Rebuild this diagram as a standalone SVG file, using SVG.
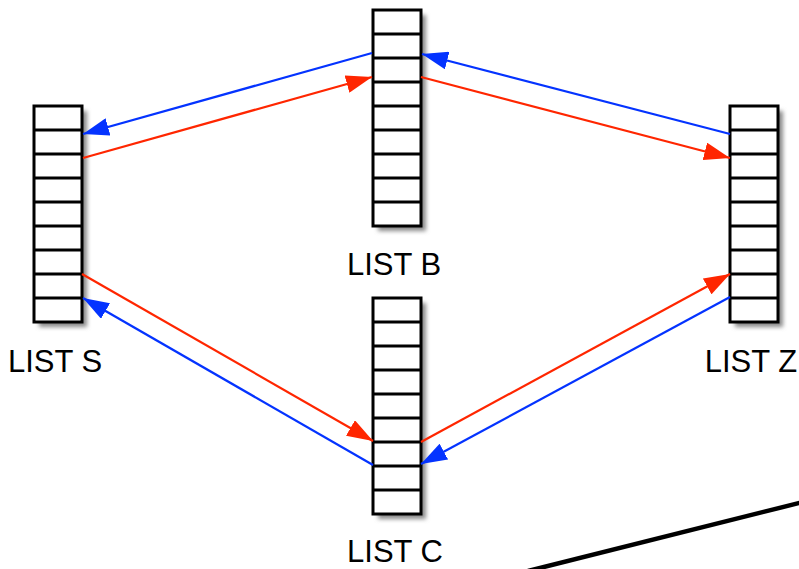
<svg xmlns="http://www.w3.org/2000/svg" xmlns:xlink="http://www.w3.org/1999/xlink" width="799" height="569" viewBox="0 0 799 569">
  <style>
    .cell { fill: #ffffff; stroke: #000000; stroke-width: 3; }
    .div { stroke: #000000; stroke-width: 3; }
    .shadow { fill: #8a8a8a; filter: url(#soft); }
    .label { font-family: "Liberation Sans", Arial, Helvetica, sans-serif; font-size: 31px; fill: #000000; text-anchor: middle; }
    .blue { stroke: #0433ff; stroke-width: 2.2; fill: none; marker-end: url(#headBlue); }
    .red { stroke: #ff2600; stroke-width: 2.2; fill: none; marker-end: url(#headRed); }
  </style>
  <defs>
    <filter id="soft" x="-30%" y="-10%" width="160%" height="120%">
      <feGaussianBlur stdDeviation="2"/>
    </filter>
    <marker id="headBlue" viewBox="0 0 26 18" refX="26" refY="9" markerWidth="26" markerHeight="18" markerUnits="userSpaceOnUse" orient="auto">
      <path d="M0,0 L26,9 L0,18 z" fill="#0433ff"/>
    </marker>
    <marker id="headRed" viewBox="0 0 26 18" refX="26" refY="9" markerWidth="26" markerHeight="18" markerUnits="userSpaceOnUse" orient="auto">
      <path d="M0,0 L26,9 L0,18 z" fill="#ff2600"/>
    </marker>
    <!-- a nine-slot list column, 48 x 216 -->
    <g id="column">
      <rect class="shadow" x="5" y="5" width="48" height="216"/>
      <rect class="cell" x="0" y="0" width="48" height="216"/>
      <path class="div" d="M0,24H48M0,48H48M0,72H48M0,96H48M0,120H48M0,144H48M0,168H48M0,192H48"/>
    </g>
  </defs>

  <rect width="799" height="569" fill="#ffffff"/>

  <g id="list-b">
    <use xlink:href="#column" x="373" y="10"/>
    <text class="label" x="394" y="275">LIST B</text>
  </g>
  <g id="list-s">
    <use xlink:href="#column" x="34" y="106"/>
    <text class="label" x="55" y="372">LIST S</text>
  </g>
  <g id="list-z">
    <use xlink:href="#column" x="730" y="106"/>
    <text class="label" x="751" y="372">LIST Z</text>
  </g>
  <g id="list-c">
    <use xlink:href="#column" x="373" y="298"/>
    <text class="label" x="395" y="562">LIST C</text>
  </g>

  <g id="connectors">
    <line class="blue" x1="372" y1="53" x2="83" y2="134"/>
    <line class="red" x1="83" y1="158" x2="372" y2="77"/>
    <line class="blue" x1="730" y1="134" x2="422" y2="54"/>
    <line class="red" x1="421" y1="77" x2="730" y2="158"/>
    <line class="red" x1="82" y1="274" x2="373" y2="441"/>
    <line class="blue" x1="373" y1="465" x2="83" y2="298"/>
    <line class="red" x1="421" y1="442" x2="730" y2="274"/>
    <line class="blue" x1="730" y1="297" x2="421" y2="464"/>
  </g>

  <line x1="528" y1="571" x2="801" y2="502.5" stroke="#000000" stroke-width="4.5"/>
</svg>
